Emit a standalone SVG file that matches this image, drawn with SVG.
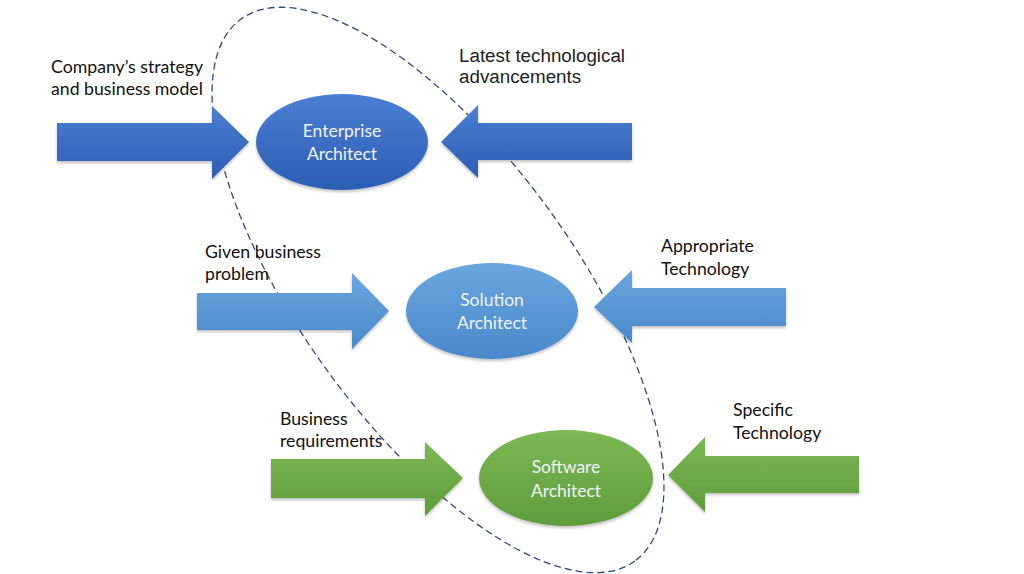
<svg xmlns="http://www.w3.org/2000/svg" width="1024" height="574" viewBox="0 0 1024 574">
<defs>
<linearGradient id="gBlue" x1="0" y1="0" x2="0" y2="1"><stop offset="0" stop-color="#4b7fd3"/><stop offset="1" stop-color="#2c5db4"/></linearGradient>
<linearGradient id="gLight" x1="0" y1="0" x2="0" y2="1"><stop offset="0" stop-color="#6aa6df"/><stop offset="1" stop-color="#4a88cb"/></linearGradient>
<linearGradient id="gGreen" x1="0" y1="0" x2="0" y2="1"><stop offset="0" stop-color="#7cb955"/><stop offset="1" stop-color="#5f9c3a"/></linearGradient>
<filter id="sh" x="-10%" y="-10%" width="120%" height="130%"><feDropShadow dx="0" dy="2" stdDeviation="1.5" flood-color="#000" flood-opacity="0.25"/></filter>
</defs>
<style>
.lbl{font-family:Lato,"Liberation Sans",sans-serif;font-size:17.7px;fill:#111}
.lbl2{font-family:"Liberation Sans",Arial,sans-serif;font-size:18.8px;fill:#222}
.in{font-family:Lato,"Liberation Sans",sans-serif;font-size:17.5px;fill:#eef3fa;text-anchor:middle}
.dash{fill:none;stroke:#2e4a86;stroke-width:1.3;stroke-dasharray:7 4}
</style>
<rect width="1024" height="574" fill="#fff"/>
<g id="boundary">
<ellipse class="dash" cx="438" cy="290" rx="335" ry="137" transform="rotate(54 438 290)"/>
</g>
<g id="connectors" filter="url(#sh)">
<polygon fill="url(#gBlue)" points="57,123 212,123 212,106 249,142 212,179 212,161 57,161"/>
<polygon fill="url(#gBlue)" points="632,123 478,123 478,105 441,142 478,178 478,160 632,160"/>
<polygon fill="url(#gLight)" points="197,293 352,293 352,273 389,311 352,349 352,330 197,330"/>
<polygon fill="url(#gLight)" points="786,288 632,288 632,270 594,307 632,343 632,326 786,326"/>
<polygon fill="url(#gGreen)" points="271,459 425,459 425,442 463,478 425,516 425,498 271,498"/>
<polygon fill="url(#gGreen)" points="859,456 705,456 705,437 668,475 705,512 705,493 859,493"/>
</g>
<g id="enterprise">
<ellipse cx="342" cy="142" rx="86" ry="48" fill="url(#gBlue)" filter="url(#sh)"/>
<text class="in" x="342" y="137">Enterprise</text>
<text class="in" x="342" y="160">Architect</text>
</g>
<g id="solution">
<ellipse cx="492" cy="311" rx="86" ry="48" fill="url(#gLight)" filter="url(#sh)"/>
<text class="in" x="492" y="306">Solution</text>
<text class="in" x="492" y="329">Architect</text>
</g>
<g id="software">
<ellipse cx="566" cy="478" rx="87" ry="48" fill="url(#gGreen)" filter="url(#sh)"/>
<text class="in" x="566" y="473">Software</text>
<text class="in" x="566" y="497">Architect</text>
</g>
<g id="labels">
<text class="lbl" x="51" y="73">Company’s strategy</text>
<text class="lbl" x="51" y="95">and business model</text>
<text class="lbl2" x="459" y="62">Latest technological</text>
<text class="lbl2" x="459" y="83">advancements</text>
<text class="lbl" x="205" y="258">Given business</text>
<text class="lbl" x="205" y="280">problem</text>
<text class="lbl" x="661" y="252">Appropriate</text>
<text class="lbl" x="661" y="275">Technology</text>
<text class="lbl" x="280" y="425">Business</text>
<text class="lbl" x="280" y="447">requirements</text>
<text class="lbl" x="733" y="416">Specific</text>
<text class="lbl" x="733" y="439">Technology</text>
</g>
</svg>
